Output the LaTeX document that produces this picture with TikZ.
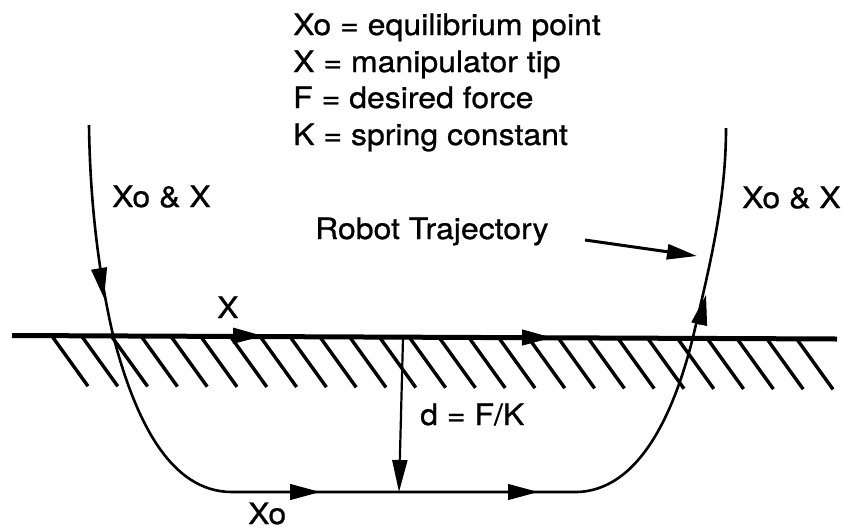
\documentclass[tikz,border=0pt]{standalone}
\usepackage{fontspec}
\setmainfont{TeX Gyre Heros}[FakeStretch=1.085,FakeBold=0.8]
\usetikzlibrary{arrows.meta}
\begin{document}
\begin{tikzpicture}[x=1pt,y=-1pt,
  lbl/.style={anchor=base west, inner sep=0pt, font=\fontsize{29.5}{35}\selectfont},
  traj/.style={line width=2.6pt},
  ground/.style={line width=5pt},
  hatchline/.style={line width=3.4pt},
  tipA/.style={-{Triangle[length=30pt,width=16pt]}, line width=1pt},
  darrow/.style={line width=2.2pt, -{Triangle[length=32pt,width=15pt]}},
  rtarrow/.style={line width=3pt, -{Triangle[length=30pt,width=15pt]}}
]
\useasboundingbox (0,0) rectangle (843,531);

% trajectory key points
\coordinate (ls) at (89,125);
\coordinate (lx) at (113,335);
\coordinate (lb) at (232,492);
\coordinate (rb) at (575,492);
\coordinate (rx) at (693,337);
\coordinate (re) at (726,128);

% ground line and hatching
\coordinate (g0) at (12,335.5);
\coordinate (g1) at (837,339);
\draw[ground] (g0) -- (g1);
\foreach \i in {0,...,25}
  \draw[hatchline] ({52+29.8*\i},{336+3.5*(40+29.8*\i)/825}) -- ++(36,50);

% robot trajectory
\draw[traj] (ls) .. controls (90,200) and (98,270) .. (lx)
  .. controls (135,420) and (170,492) .. (lb) -- (rb)
  .. controls (640,492) and (675,410) .. (rx)
  .. controls (710,265) and (726,200) .. (re);

% arrowheads along the paths
\draw[tipA] (99,268) -- (104,298);
\draw[tipA] (233,335.7) -- (263,336);
\draw[tipA] (522,337.5) -- (552,337.7);
\draw[tipA] (290,492) -- (320,492);
\draw[tipA] (507,492) -- (538,492);
\draw[tipA] (699,325) -- (706,295);

% d arrow
\coordinate (dt) at (403,338);
\coordinate (db) at (399,492);
\draw[darrow] (dt) -- (db);

% labels
\node[lbl] (leg1) at (293,35) {Xo = equilibrium point};
\node[lbl] (leg2) at (293,72) {X = manipulator tip};
\node[lbl] (leg3) at (293,108) {F = desired force};
\node[lbl] (leg4) at (293,145) {K = spring constant};
\node[lbl] (xxl) at (112,207) {Xo \& X};
\node[lbl] (xxr) at (742,208) {Xo \& X};
\node[lbl] (rt) at (315,239) {Robot Trajectory};
\node[lbl] (xl) at (217,318) {X};
\node[lbl] (xol) at (248,524) {Xo};
\node[lbl] (dl) at (420,425) {d = F/K};

% pointer from label to trajectory
\coordinate (rta) at (585,240);
\coordinate (rtb) at (697,256);
\draw[rtarrow] (rta) -- (rtb);
\end{tikzpicture}
\end{document}
